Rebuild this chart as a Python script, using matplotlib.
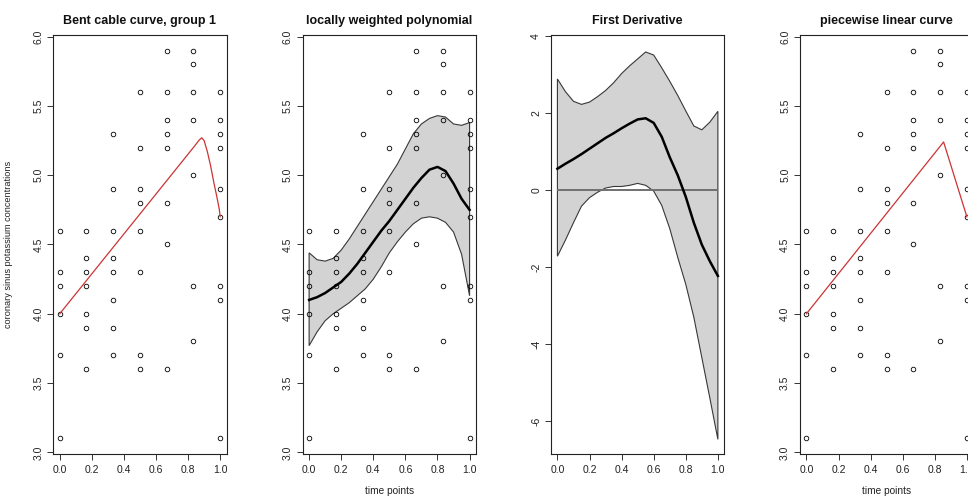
import numpy as np
import matplotlib
matplotlib.use("Agg")
import matplotlib.pyplot as plt

plt.rcParams['font.family'] = ['Liberation Sans', 'DejaVu Sans']

# observed potassium values at each time point
times = [0.0, 1/6, 2/6, 3/6, 4/6, 5/6, 1.0]
potassium = [
    [4.6, 4.3, 4.2, 4.0, 3.7, 3.1],
    [4.6, 4.4, 4.3, 4.2, 4.0, 3.9, 3.6],
    [5.3, 4.9, 4.6, 4.4, 4.3, 4.1, 3.9, 3.7],
    [5.6, 5.2, 4.9, 4.8, 4.6, 4.3, 3.7, 3.6],
    [5.9, 5.6, 5.4, 5.3, 5.2, 4.8, 4.5, 3.6],
    [5.9, 5.8, 5.6, 5.4, 5.0, 4.2, 3.8],
    [5.6, 5.4, 5.3, 5.2, 4.9, 4.7, 4.2, 4.1, 3.1],
]

# bent cable fit
bent_x = [0.0, 0.84, 0.87, 0.885, 0.90, 0.92, 0.94, 0.96, 0.98, 0.995, 1.0]
bent_y = [4.0, 5.21, 5.255, 5.27, 5.25, 5.17, 5.07, 4.95, 4.84, 4.75, 4.70]

# piecewise linear fit
pw_x = [0.0, 0.855, 1.0]
pw_y = [4.0, 5.24, 4.70]

# grid for smooth curves
grid = [0.00, 0.05, 0.10, 0.15, 0.20, 0.25, 0.30, 0.35, 0.40, 0.45, 0.50,
        0.55, 0.60, 0.65, 0.70, 0.75, 0.80, 0.85, 0.90, 0.95, 1.00]

loess_fit = [4.10, 4.12, 4.15, 4.19, 4.23, 4.29, 4.36, 4.44, 4.52, 4.60, 4.67,
             4.75, 4.83, 4.91, 4.98, 5.04, 5.06, 5.03, 4.94, 4.83, 4.75]
loess_hi = [4.44, 4.39, 4.38, 4.40, 4.46, 4.54, 4.63, 4.72, 4.81, 4.90, 4.99,
            5.08, 5.19, 5.30, 5.37, 5.41, 5.43, 5.42, 5.37, 5.36, 5.38]
loess_lo = [3.77, 3.87, 3.95, 4.00, 4.04, 4.08, 4.13, 4.18, 4.25, 4.34, 4.44,
            4.52, 4.59, 4.65, 4.69, 4.70, 4.69, 4.66, 4.59, 4.43, 4.13]

deriv_fit = [0.55, 0.68, 0.80, 0.93, 1.07, 1.21, 1.35, 1.47, 1.60, 1.72, 1.83,
             1.86, 1.74, 1.38, 0.85, 0.38, -0.18, -0.85, -1.42, -1.85, -2.23]
deriv_hi = [2.88, 2.55, 2.30, 2.22, 2.28, 2.42, 2.58, 2.78, 3.02, 3.22, 3.40,
            3.58, 3.50, 3.17, 2.82, 2.45, 2.05, 1.66, 1.56, 1.76, 2.04]
deriv_lo = [-1.72, -1.30, -0.85, -0.42, -0.20, -0.06, 0.05, 0.09, 0.09, 0.12, 0.17,
            0.12, -0.03, -0.40, -1.00, -1.75, -2.45, -3.30, -4.35, -5.40, -6.47]

obs_x = [t for t, vals in zip(times, potassium) for _ in vals]
obs_y = [v for vals in potassium for v in vals]

W, H = 968, 498
fig = plt.figure(figsize=(W / 100, H / 100), dpi=100)

lefts = [53.3, 302.7, 551.0, 800.0]
pw, top, bot = 173.3, 35.0, 454.0


def r_axes(left, title, ylim, yticks, ylabels, xlabel=None, ylabel=None):
    ax = fig.add_axes([left / W, (H - bot) / H, pw / W, (bot - top) / H])
    ax.set_xlim(-0.04, 1.04)
    ax.set_ylim(*ylim)
    ax.set_xticks([0, 0.2, 0.4, 0.6, 0.8, 1.0])
    ax.set_xticklabels(['0.0', '0.2', '0.4', '0.6', '0.8', '1.0'])
    ax.set_yticks(yticks)
    ax.set_yticklabels(ylabels, rotation=90, va='center')
    ax.tick_params(direction='out', length=4.1, width=0.7, color='#333333',
                   labelsize=7.5, labelcolor='#222222')
    ax.tick_params(axis='x', pad=3.5)
    ax.tick_params(axis='y', pad=3)
    for s in ax.spines.values():
        s.set_linewidth(0.8)
        s.set_color('#222222')
    ax.set_title(title, fontsize=9, fontweight='bold', pad=8, color='#111111')
    if xlabel:
        ax.set_xlabel(xlabel, fontsize=7.3, labelpad=8, color='#222222')
    if ylabel:
        ax.set_ylabel(ylabel, fontsize=6.6, color='#222222')
        ax.yaxis.set_label_coords(-(lefts[0] - 13) / pw, 0.5)
    return ax


k_ticks = [3.0, 3.5, 4.0, 4.5, 5.0, 5.5, 6.0]
k_labels = ['3.0', '3.5', '4.0', '4.5', '5.0', '5.5', '6.0']
k_lim = (2.988, 6.012)
pt_style = dict(marker='o', ms=3.3, mfc='none', mec='black', mew=0.6, ls='none')

# panel 1: bent cable
ax1 = r_axes(lefts[0], 'Bent cable curve, group 1', k_lim, k_ticks, k_labels,
             ylabel='coronary sinus potassium concentrations')
ax1.plot(obs_x, obs_y, **pt_style)
ax1.plot(bent_x, bent_y, color='#cc3333', lw=0.9)

# panel 2: loess with band
ax2 = r_axes(lefts[1], 'locally weighted polynomial', k_lim, k_ticks, k_labels,
             xlabel='time points')
ax2.fill(grid + grid[::-1], loess_lo + loess_hi[::-1], facecolor='#d3d3d3',
         edgecolor='#383838', lw=0.8)
ax2.plot(obs_x, obs_y, **pt_style)
ax2.plot(grid, loess_fit, color='black', lw=1.8)

# panel 3: first derivative
ax3 = r_axes(lefts[2], 'First Derivative', (-6.85, 4.02),
             [-6, -4, -2, 0, 2, 4], ['-6', '-4', '-2', '0', '2', '4'])
ax3.fill(grid + grid[::-1], deriv_lo + deriv_hi[::-1], facecolor='#d3d3d3',
         edgecolor='#383838', lw=0.8)
ax3.hlines(0, grid[0], grid[-1], color='#707070', lw=1.4)
ax3.plot(grid, deriv_fit, color='black', lw=1.8)

# panel 4: piecewise linear
ax4 = r_axes(lefts[3], 'piecewise linear curve', k_lim, k_ticks, k_labels,
             xlabel='time points')
ax4.plot(obs_x, obs_y, **pt_style)
ax4.plot(pw_x, pw_y, color='#cc3333', lw=0.9)

fig.savefig('out.png', dpi=100)
